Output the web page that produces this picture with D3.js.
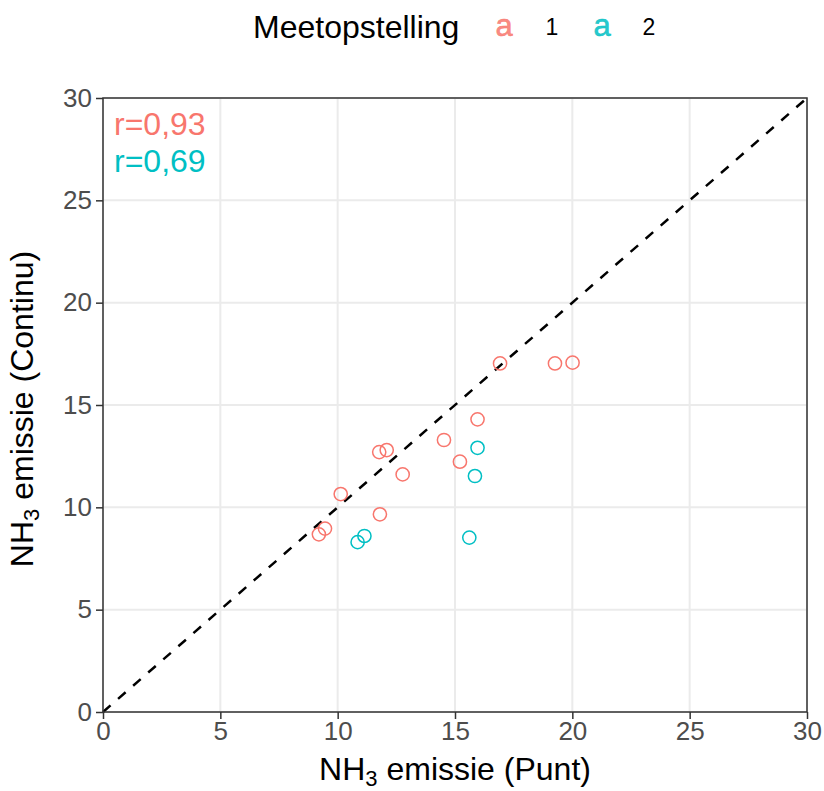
<!DOCTYPE html>
<html>
<head>
<meta charset="utf-8">
<script src="https://cdn.jsdelivr.net/npm/d3@7"></script>
<style>
  body { margin: 0; background: #fff; }
  text { font-family: "Liberation Sans", Arial, sans-serif; }
</style>
</head>
<body>
<svg id="chart" width="824" height="791"></svg>
<script>
// Meetopstelling 1 (punt vs continu)
var punt1 = [16.92, 19.26, 20.01, 15.96, 14.53, 11.77, 12.09, 15.21, 12.77, 10.13, 11.80, 9.46, 9.20];
var continu1 = [17.03, 17.03, 17.07, 14.30, 13.29, 12.70, 12.80, 12.23, 11.61, 10.65, 9.66, 8.96, 8.68];
// Meetopstelling 2
var punt2 = [15.96, 15.85, 15.61, 11.14, 10.85];
var continu2 = [12.91, 11.53, 8.52, 8.60, 8.30];

var groups = ["1", "2"];
var groupColors = ["#F8766D", "#00BFC4"];
var rLabels = ["r=0,93", "r=0,69"];
var ticks = [0, 5, 10, 15, 20, 25, 30];
var axisRange = [0, 30];

var svg = d3.select("#chart");
// paneel grenzen (niet "top" noemen, dat is window.top)
var pLeft = 103, pRight = 807, pTop = 98, pBottom = 712;

var x = d3.scaleLinear().domain(axisRange).range([pLeft, pRight]);
var y = d3.scaleLinear().domain(axisRange).range([pBottom, pTop]);

// gridlines
var grid = svg.append("g");
grid.selectAll("line.gx").data(ticks).enter().append("line")
    .attr("x1", function(d){ return x(d); }).attr("x2", function(d){ return x(d); })
    .attr("y1", pTop).attr("y2", pBottom)
    .attr("stroke", "#EBEBEB").attr("stroke-width", 2);
grid.selectAll("line.gy").data(ticks).enter().append("line")
    .attr("y1", function(d){ return y(d); }).attr("y2", function(d){ return y(d); })
    .attr("x1", pLeft).attr("x2", pRight)
    .attr("stroke", "#EBEBEB").attr("stroke-width", 2);

// diagonale 1:1 lijn
svg.append("line")
    .attr("x1", x(axisRange[0])).attr("y1", y(axisRange[0]))
    .attr("x2", x(axisRange[1])).attr("y2", y(axisRange[1]))
    .attr("stroke", "#000").attr("stroke-width", 2.5)
    .attr("stroke-dasharray", "10,10");

// punten
var pts = [];
punt1.forEach(function(v, i){ pts.push({x: v, y: continu1[i], g: 0}); });
punt2.forEach(function(v, i){ pts.push({x: v, y: continu2[i], g: 1}); });

svg.selectAll("circle.pt").data(pts).enter().append("circle")
    .attr("class", "pt")
    .attr("cx", function(d){ return x(d.x); })
    .attr("cy", function(d){ return y(d.y); })
    .attr("r", 6.6)
    .attr("fill", "none")
    .attr("stroke", function(d){ return groupColors[d.g]; })
    .attr("stroke-width", 1.5);

// r labels
svg.selectAll("text.rlab").data(rLabels).enter().append("text")
    .attr("x", pLeft + 11)
    .attr("y", function(d, i){ return 135 + i * 37; })
    .attr("font-size", "32px")
    .attr("fill", function(d, i){ return groupColors[i]; })
    .text(function(d){ return d; });

// panel border
svg.append("rect")
    .attr("x", pLeft).attr("y", pTop)
    .attr("width", pRight - pLeft).attr("height", pBottom - pTop)
    .attr("fill", "none").attr("stroke", "#333").attr("stroke-width", 1.5);

// axes
var xAxis = svg.append("g").attr("transform", "translate(0," + pBottom + ")")
    .call(d3.axisBottom(x).tickValues(ticks).tickSize(7).tickPadding(3).tickFormat(d3.format("d")));
var yAxis = svg.append("g").attr("transform", "translate(" + pLeft + ",0)")
    .call(d3.axisLeft(y).tickValues(ticks).tickSize(7).tickPadding(4).tickFormat(d3.format("d")));
[xAxis, yAxis].forEach(function(a){
    a.select(".domain").remove();
    a.selectAll(".tick line").attr("stroke", "#333").attr("stroke-width", 1.5);
    a.selectAll(".tick text").attr("fill", "#4D4D4D").attr("font-size", "26px")
        .attr("font-family", "'Liberation Sans', Arial, sans-serif");
});

// as titels met subscript
var xt = svg.append("text").attr("x", (pLeft + pRight) / 2).attr("y", 780)
    .attr("text-anchor", "middle").attr("font-size", "32px").attr("fill", "#000");
xt.append("tspan").text("NH");
xt.append("tspan").attr("font-size", "22px").attr("dy", 6).text("3");
xt.append("tspan").attr("dy", -6).text(" emissie (Punt)");

var yt = svg.append("text").attr("transform", "translate(33," + ((pTop + pBottom) / 2 + 4) + ") rotate(-90)")
    .attr("text-anchor", "middle").attr("font-size", "32px").attr("fill", "#000");
yt.append("tspan").text("NH");
yt.append("tspan").attr("font-size", "22px").attr("dy", 6).text("3");
yt.append("tspan").attr("dy", -6).text(" emissie (Continu)");

// legenda bovenaan
var legend = svg.append("g");
legend.append("text").attr("x", 253).attr("y", 38)
    .attr("font-size", "32px").attr("fill", "#000").text("Meetopstelling");
var keyX = [504, 602];
var labX = [552, 649];
groups.forEach(function(g, i){
    // sleutel "a", met dunne rand zodat hij iets dikker lijkt
    legend.append("text").attr("x", keyX[i]).attr("y", 36).attr("text-anchor", "middle")
        .attr("font-size", "31px").attr("fill", groupColors[i]).attr("fill-opacity", 0.85)
        .attr("stroke", groupColors[i]).attr("stroke-width", 0.5).text("a");
    legend.append("text").attr("x", labX[i]).attr("y", 35).attr("text-anchor", "middle")
        .attr("font-size", "23px").attr("fill", "#000").text(g);
});
</script>
</body>
</html>
